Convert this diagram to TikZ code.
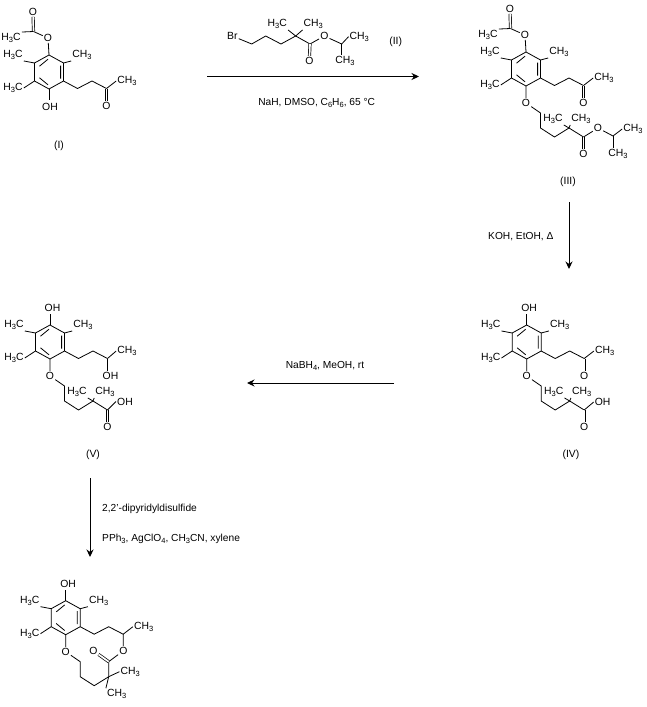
\documentclass[tikz,border=0pt]{standalone}
\usepackage{fontspec}
\setmainfont{Liberation Sans}
\usetikzlibrary{arrows.meta}
\newcommand{\ssb}[1]{\raisebox{-2.2pt}{\fontsize{7.5}{8}\selectfont #1}}
\newcommand{\HtC}{H\ssb{3}C}
\newcommand{\CHt}{CH\ssb{3}}
\tikzset{
  atom/.style={inner sep=1pt,font=\fontsize{10.4}{12}\selectfont},
  txt/.style={inner sep=0pt,font=\fontsize{10.2}{12}\selectfont},
  bond/.style={line width=.8pt,black},
  dbond/.style={line width=.7pt,double,double distance=1.7pt,black},
  rxn/.style={line width=1pt,black,-{Stealth[length=7.5pt,width=7pt,inset=2.4pt]}}
}
% common aromatic core; origin = ring top vertex
\newcommand{\core}[1]{
  \coordinate (#1t) at (0,0);
  \coordinate (#1ur) at (14.5,8);
  \coordinate (#1lr) at (14.5,26);
  \coordinate (#1b) at (0,34);
  \coordinate (#1ll) at (-14.5,26);
  \coordinate (#1ul) at (-14.5,8);
  \coordinate (#1ia) at (11.6,10.5);
  \coordinate (#1ib) at (11.6,23.5);
  \coordinate (#1ic) at (-9.5,22.8);
  \coordinate (#1id) at (-1,29.8);
  \coordinate (#1ie) at (-9.5,11.2);
  \coordinate (#1if) at (-1,4.2);
  \draw[bond] (#1t)--(#1ur)--(#1lr)--(#1b)--(#1ll)--(#1ul)--cycle;
  \draw[bond] (#1ia)--(#1ib) (#1ic)--(#1id) (#1ie)--(#1if);
  \node[atom] (#1m1) at (33,0) {\CHt};
  \node[atom] (#1m2) at (-36,0) {\HtC};
  \node[atom] (#1m3) at (-36,33) {\HtC};
  \draw[bond] (#1ur)--(#1m1.south west);
  \draw[bond] (#1ul)--(#1m2.south east);
  \draw[bond] (#1ll)--(#1m3.east);
  \coordinate (#1c1) at (28.5,33.5);
  \coordinate (#1c2) at (43,26);
  \coordinate (#1c3) at (57.5,33.5);
  \draw[bond] (#1lr)--(#1c1)--(#1c2)--(#1c3);
}
\newcommand{\ketone}[1]{
  \node[atom] (#1ko) at (57.5,51) {O};
  \node[atom] (#1km) at (78,26) {\CHt};
  \draw[dbond] (#1c3)--(#1ko);
  \draw[bond] (#1c3)--(#1km.west);
}
\newcommand{\acetate}[1]{
  \node[atom] (#1ao) at (-1,-17) {O};
  \coordinate (#1ac) at (-15.5,-23.5);
  \node[atom] (#1ad) at (-16,-43) {O};
  \node[atom] (#1am) at (-38,-17) {\HtC};
  \draw[bond] (#1t)--(#1ao)--(#1ac);
  \draw[dbond] (#1ac)--(#1ad);
  \draw[bond] (#1ac)--(#1am.north east);
}
\newcommand{\topoh}[1]{
  \node[atom] (#1oh) at (2.5,-17) {OH};
  \draw[bond] (#1t)--(0,-11);
}
\newcommand{\ether}[1]{
  \node[atom] (#1eo) at (0,51) {O};
  \coordinate (#1e1) at (14.5,61);
  \coordinate (#1e2) at (14.5,76);
  \coordinate (#1e3) at (28.5,85);
  \coordinate (#1e4) at (43,76);
  \draw[bond] (#1b)--(#1eo)--(#1e1)--(#1e2)--(#1e3)--(#1e4);
}
\newcommand{\tail}[1]{
  \ether{#1}
  \coordinate (#1e5) at (57.5,85);
  \node[atom] (#1qa) at (27,67) {\HtC};
  \node[atom] (#1qb) at (55,67) {\CHt};
  \node[atom] (#1eq) at (57.5,101.5) {O};
  \draw[bond] (#1e4)--(#1e5);
  \draw[bond] (#1e4)--(#1qa.south east);
  \draw[bond] (#1e4)--(#1qb.south west);
  \draw[dbond] (#1e5)--(#1eq);
}
\begin{document}
\begin{tikzpicture}[x=1pt,y=-1pt]
\useasboundingbox (0,0) rectangle (647,707);
% (I)
\begin{scope}[shift={(49,55)}]
  \core{a} \ketone{a} \acetate{a}
  \node[atom] (aoh) at (1,52) {OH};
  \draw[bond] (ab)--(0,45);
\end{scope}
\node[atom] (lI) at (59,146) {(I)};
% (II)
\node[atom] (bbr) at (232.3,36) {Br};
\coordinate (b1) at (251.7,44);
\coordinate (b2) at (265.7,36);
\coordinate (b3) at (281,44);
\coordinate (b4) at (295.7,36);
\coordinate (b5) at (310,44);
\coordinate (b6) at (341.7,44);
\node[atom] (bm1) at (277.3,24) {\HtC};
\node[atom] (bm2) at (313.3,24) {\CHt};
\node[atom] (bo1) at (309.3,60.7) {O};
\node[atom] (bo2) at (324.3,36) {O};
\node[atom] (bm3) at (359.3,36.7) {\CHt};
\node[atom] (bm4) at (345,60.7) {\CHt};
\draw[bond] (bbr)--(b1)--(b2)--(b3)--(b4)--(b5)--(bo2)--(b6)--(bm3.west);
\draw[bond] (b4)--(bm1.south east);
\draw[bond] (b4)--(bm2.south west);
\draw[dbond] (b5)--(bo1);
\draw[bond] (b6)--(341.7,55);
\node[atom] (lII) at (395.7,41.7) {(II)};
% (III)
\begin{scope}[shift={(526,52)}]
  \core{c} \ketone{c} \acetate{c} \tail{c}
  \node[atom] (cso) at (72,76) {O};
  \coordinate (cip) at (87,84);
  \node[atom] (cp1) at (107,77) {\CHt};
  \node[atom] (cp2) at (92,102) {\CHt};
  \draw[bond] (ce5)--(cso)--(cip)--(cp1.west);
  \draw[bond] (cip)--(87,96);
\end{scope}
\node[atom] (lIII) at (568,182) {(III)};
% (IV)
\begin{scope}[shift={(526.7,325)}]
  \core{d} \ketone{d} \topoh{d} \tail{d}
  \node[atom] (doh2) at (76,77) {OH};
  \draw[bond] (de5)--(doh2.west);
\end{scope}
\node[atom] (lIV) at (571,455) {(IV)};
% (V)
\begin{scope}[shift={(50,325)}]
  \core{e} \topoh{e} \tail{e}
  \node[atom] (eoh3) at (60.5,51) {OH};
  \node[atom] (ekm) at (77,26) {\CHt};
  \draw[bond] (ec3)--(57.5,46);
  \draw[bond] (ec3)--(ekm.west);
  \node[atom] (eoh2) at (75,76.5) {OH};
  \draw[bond] (ee5)--(eoh2.west);
\end{scope}
\node[atom] (lV) at (93,455) {(V)};
% (VI)
\begin{scope}[shift={(65.7,600.7)}]
  \core{f} \topoh{f} \ether{f}
  \node[atom] (fso) at (57.6,50) {O};
  \node[atom] (fkm) at (78,26) {\CHt};
  \node[atom] (fco) at (27.6,50) {O};
  \coordinate (fcc) at (43,61);
  \node[atom] (fm1) at (64.5,71) {\CHt};
  \node[atom] (fm2) at (51,93.5) {\CHt};
  \draw[bond] (fc3)--(fso)--(fcc)--(fe4);
  \draw[bond] (fc3)--(fkm.west);
  \draw[dbond] (fcc)--(fco);
  \draw[bond] (fe4)--(fm1.west);
  \draw[bond] (fe4)--(fm2.north west);
\end{scope}
% arrows
\coordinate (r1a) at (207,76.5);
\coordinate (r1b) at (419,76.5);
\draw[rxn] (r1a)--(r1b);
\coordinate (r2a) at (569,202);
\coordinate (r2b) at (569,269);
\draw[rxn] (r2a)--(r2b);
\coordinate (r3a) at (394,383);
\coordinate (r3b) at (247,383);
\draw[rxn] (r3a)--(r3b);
\coordinate (r4a) at (90,478);
\coordinate (r4b) at (90,557);
\draw[rxn] (r4a)--(r4b);
% conditions
\node[txt] (t1) at (316.7,103) {NaH, DMSO, C\ssb{6}H\ssb{6}, 65 °C};
\node[txt,anchor=west] (t2) at (488,236.7) {KOH, EtOH, Δ};
\node[txt] (t3) at (325,366) {NaBH\ssb{4}, MeOH, rt};
\node[txt,anchor=west] (t4) at (102,509) {2,2'-dipyridyldisulfide};
\node[txt,anchor=west] (t5) at (102,538.5) {PPh\ssb{3}, AgClO\ssb{4}, CH\ssb{3}CN, xylene};
\end{tikzpicture}
\end{document}
